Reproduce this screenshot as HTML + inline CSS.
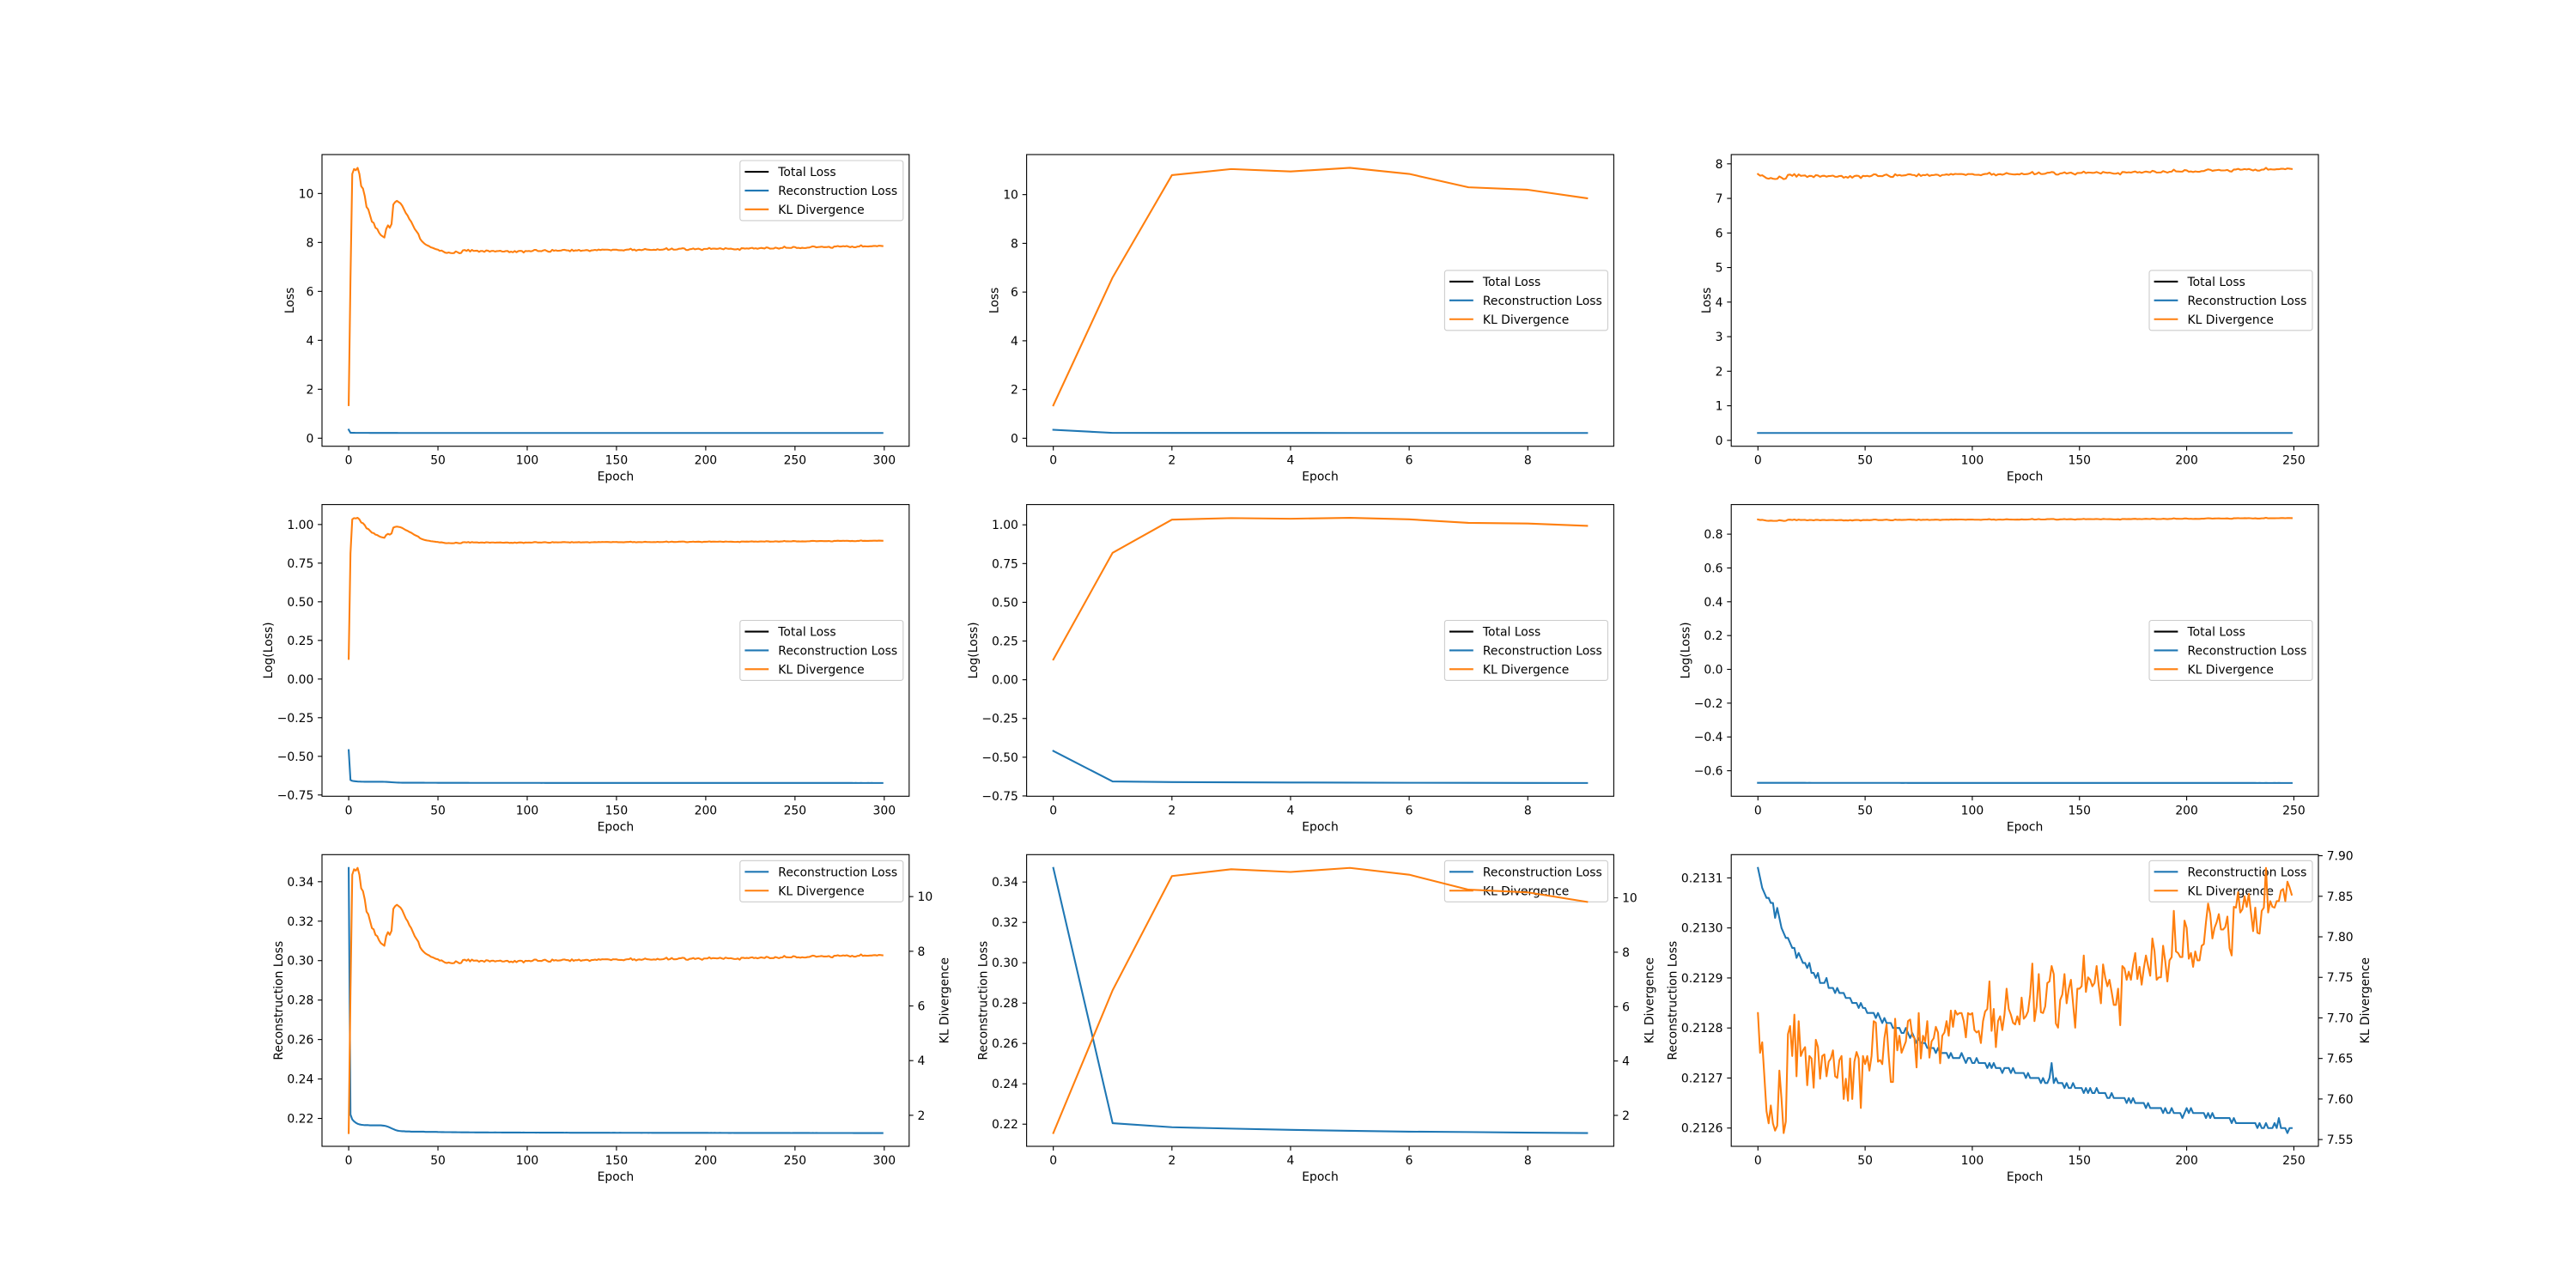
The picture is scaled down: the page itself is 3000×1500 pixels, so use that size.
<!DOCTYPE html>
<html><head><meta charset="utf-8"><title>VAE training losses</title>
<style>
html,body{margin:0;padding:0;background:#fff;}
svg{display:block;font-family:"DejaVu Sans","Liberation Sans",sans-serif;}
</style></head>
<body>
<svg id="fig" width="3000" height="1500" viewBox="0 0 3000 1500" xmlns="http://www.w3.org/2000/svg">
<rect x="0" y="0" width="3000" height="1500" fill="#fff"/>
</svg>
<script>
// ---- data ----
const runB_kl = [1.35,6.6,10.8,11.05,10.95,11.1,10.85,10.3,10.2,9.85];
const runB_rec = [0.347,0.2205,0.2185,0.2178,0.2172,0.2167,0.2163,0.2161,0.2158,0.2156];

const runA_head_kl = [1.35,6.5,10.8,11.0,10.95,11.05,10.8,10.3,10.2,9.9,
9.45,9.35,9.1,8.85,8.8,8.6,8.55,8.4,8.3,8.25,
8.2,8.55,8.7,8.6,8.75,9.55,9.65,9.7,9.65,9.6,
9.5,9.35,9.2,9.1,8.95,8.85,8.7,8.55,8.45,8.35,
8.15,8.05,7.98,7.92,7.88,7.85,7.8,7.78,7.75,7.72];
const runA_head_rec = [0.347,0.222,0.2195,0.2185,0.2178,0.2173,0.217,0.2168,0.2167,0.2166,
0.2166,0.2166,0.2165,0.2165,0.2165,0.2165,0.2165,0.2165,0.2165,0.2164,
0.2163,0.2161,0.2158,0.2154,0.215,0.2146,0.2142,0.2139,0.2137,0.2136,
0.2135,0.2135,0.2134,0.2134,0.2134,0.2133,0.2133,0.2133,0.2133,0.2133,
0.2133,0.2133,0.2133,0.2132,0.2132,0.2132,0.2132,0.2132,0.2132,0.2132];

const runC_kl = [7.706,7.657,7.67,7.628,7.585,7.57,7.592,7.57,7.561,7.567,
7.635,7.6,7.558,7.572,7.68,7.69,7.653,7.704,7.628,7.696,
7.653,7.66,7.664,7.617,7.653,7.65,7.614,7.673,7.664,7.625,
7.653,7.655,7.628,7.646,7.65,7.66,7.628,7.626,7.648,7.653,
7.6,7.625,7.598,7.65,7.6,7.646,7.658,7.65,7.589,7.653,
7.643,7.653,7.635,7.653,7.696,7.694,7.646,7.648,7.643,7.675,
7.692,7.653,7.621,7.621,7.699,7.66,7.678,7.657,7.664,7.671,
7.696,7.698,7.678,7.675,7.639,7.706,7.65,7.678,7.671,7.696,
7.651,7.671,7.675,7.689,7.682,7.644,7.678,7.682,7.696,7.678,
7.709,7.689,7.709,7.704,7.706,7.706,7.696,7.676,7.706,7.704,
7.706,7.685,7.682,7.684,7.669,7.696,7.708,7.711,7.745,7.684,
7.711,7.664,7.696,7.702,7.685,7.704,7.736,7.711,7.704,7.694,
7.692,7.702,7.692,7.725,7.699,7.702,7.708,7.729,7.767,7.696,
7.714,7.754,7.707,7.706,7.714,7.743,7.745,7.764,7.754,7.693,
7.688,7.722,7.729,7.754,7.718,7.736,7.747,7.718,7.688,7.736,
7.736,7.739,7.777,7.732,7.75,7.747,7.739,7.743,7.764,7.739,
7.718,7.766,7.75,7.739,7.747,7.732,7.716,7.716,7.736,7.691,
7.764,7.761,7.747,7.757,7.747,7.766,7.78,7.748,7.763,7.741,
7.761,7.777,7.764,7.752,7.798,7.782,7.747,7.75,7.75,7.789,
7.77,7.745,7.771,7.775,7.832,7.782,7.78,7.775,7.775,7.82,
7.811,7.773,7.78,7.763,7.782,7.771,7.771,7.789,7.791,7.818,
7.841,7.828,7.798,7.811,7.818,7.828,7.809,7.809,7.812,7.825,
7.786,7.777,7.837,7.836,7.855,7.83,7.834,7.85,7.837,7.853,
7.83,7.807,7.836,7.805,7.804,7.832,7.836,7.885,7.83,7.844,
7.837,7.836,7.844,7.844,7.857,7.859,7.844,7.868,7.861,7.852];
const runC_rec = [.21312,.21310,.21308,.21307,.21306,.21306,.21305,.21305,.21302,.21304,
.21302,.21300,.21299,.21298,.21298,.21297,.21296,.21296,.21294,.21295,
.21294,.21293,.21293,.21292,.21293,.21291,.21291,.21290,.21291,.21289,
.21289,.21289,.21290,.21288,.21288,.21288,.21287,.21288,.21287,.21287,
.21287,.21286,.21286,.21286,.21285,.21285,.21285,.21284,.21285,.21284,
.21284,.21283,.21283,.21283,.21283,.21282,.21283,.21282,.21281,.21282,
.21281,.21281,.21281,.21280,.21280,.21280,.21280,.21279,.21279,.21280,
.21279,.21278,.21279,.21278,.21277,.21278,.21277,.21277,.21277,.21276,
.21276,.21276,.21276,.21275,.21276,.21275,.21275,.21275,.21275,.21274,
.21275,.21274,.21274,.21274,.21274,.21275,.21274,.21273,.21274,.21274,
.21273,.21273,.21274,.21273,.21273,.21273,.21273,.21272,.21273,.21272,
.21273,.21272,.21272,.21272,.21271,.21272,.21272,.21272,.21271,.21272,
.21271,.21271,.21271,.21271,.21271,.21270,.21271,.21270,.21270,.21270,
.21270,.21270,.21269,.21270,.21269,.21269,.21270,.21273,.21269,.21270,
.21269,.21269,.21269,.21268,.21269,.21268,.21268,.21269,.21268,.21268,
.21268,.21268,.21267,.21268,.21267,.21268,.21267,.21267,.21268,.21267,
.21267,.21267,.21267,.21266,.21266,.21267,.21266,.21266,.21266,.21266,
.21266,.21266,.21265,.21266,.21265,.21266,.21265,.21265,.21265,.21265,
.21265,.21264,.21265,.21264,.21264,.21264,.21264,.21264,.21264,.21263,
.21264,.21263,.21263,.21264,.21263,.21263,.21263,.21263,.21262,.21263,
.21264,.21263,.21264,.21263,.21263,.21263,.21263,.21263,.21263,.21262,
.21263,.21262,.21263,.21262,.21262,.21262,.21262,.21262,.21262,.21262,
.21262,.21261,.21262,.21261,.21261,.21261,.21261,.21261,.21261,.21261,
.21261,.21261,.21261,.21260,.21261,.21260,.21260,.21261,.21260,.21260,
.21260,.21261,.21260,.21262,.21260,.21260,.21260,.21259,.21260,.21260];

const runA_kl = runA_head_kl.concat(runC_kl);
const runA_rec = runA_head_rec.concat(runC_rec);

const ticksX300 = [0,50,100,150,200,250,300];
const ticksX250 = [0,50,100,150,200,250];
const ticksX10 = [0,2,4,6,8];
const ticksLoss11 = [0,2,4,6,8,10];
const ticksLoss8 = [0,1,2,3,4,5,6,7,8];
const ticksLogA = [-0.75,-0.5,-0.25,0,0.25,0.5,0.75,1.0];
const labelsLogA = ["−0.75","−0.50","−0.25","0.00","0.25","0.50","0.75","1.00"];
const ticksLogC = [-0.6,-0.4,-0.2,0,0.2,0.4,0.6,0.8];
const labelsLogC = ["−0.6","−0.4","−0.2","0.0","0.2","0.4","0.6","0.8"];
const ticksRec = [0.22,0.24,0.26,0.28,0.30,0.32,0.34];
const labelsRec = ["0.22","0.24","0.26","0.28","0.30","0.32","0.34"];
const ticksKLr = [2,4,6,8,10];
const ticksRecC = [0.2126,0.2127,0.2128,0.2129,0.2130,0.2131];
const labelsRecC = ["0.2126","0.2127","0.2128","0.2129","0.2130","0.2131"];
const ticksKLC = [7.55,7.60,7.65,7.70,7.75,7.80,7.85,7.90];
const labelsKLC = ["7.55","7.60","7.65","7.70","7.75","7.80","7.85","7.90"];

// ---- drawing ----
const NS = "http://www.w3.org/2000/svg";
const svg = document.getElementById('fig');
const BLUE = "#1f77b4", ORANGE = "#ff7f0e";
const FS = 13.9;
const colX = [375, 1195.6, 2016.2], W = 683.8;
const rowY = [180, 587.6, 995.3], H = 339.7;

function mk(tag, attrs, parent) {
  const e = document.createElementNS(NS, tag);
  for (const k in attrs) e.setAttribute(k, attrs[k]);
  (parent || svg).appendChild(e);
  return e;
}
function log10arr(a) { return a.map(v => Math.log10(v)); }
function dom(arrs) {
  let mn = Infinity, mx = -Infinity;
  arrs.forEach(a => a.forEach(v => { if (v < mn) mn = v; if (v > mx) mx = v; }));
  const p = (mx - mn) * 0.05;
  return [mn - p, mx + p];
}
function fmt(v) { return String(v); }
function txtW(s) { let w = 0; for (const c of s) w += (c === '.' ? 4.4 : (c === '−' ? 11.6 : 8.85)); return w; }

function panel(cfg) {
  const L = colX[cfg.col], T = rowY[cfg.row], R = L + W, B = T + H;
  const g = mk('g', {});
  
  
  const n = cfg.n;
  const xd = [-(n - 1) * 0.05, (n - 1) * 1.05];
  const sx = v => L + (v - xd[0]) / (xd[1] - xd[0]) * W;
  const ldom = dom(cfg.left.map(s => s.data));
  const sy = v => B - (v - ldom[0]) / (ldom[1] - ldom[0]) * H;
  let rdom = null, sr = null;
  if (cfg.right) { rdom = dom(cfg.right.map(s => s.data)); sr = v => B - (v - rdom[0]) / (rdom[1] - rdom[0]) * H; }

  // x ticks
  cfg.xTicks.forEach(t => {
    const x = sx(t);
    const tk = mk('line', {x1: x, x2: x, y1: B, y2: B + 4.9, stroke: '#000', 'stroke-width': 1.1}, g);
    
    
    const tl = mk('text', {x: x, y: B + 21, 'font-size': FS, 'text-anchor': 'middle', fill: '#000'}, g);
    tl.textContent = fmt(t);
    
    
  });
  const xl = mk('text', {x: (L + R) / 2, y: B + 40, 'font-size': FS, 'text-anchor': 'middle', fill: '#000'}, g);
  xl.textContent = 'Epoch';
  
  

  // left y ticks
  let maxW = 0;
  cfg.yTicks.forEach((t, i) => {
    if (t < ldom[0] || t > ldom[1]) return;
    const y = sy(t);
    const tk = mk('line', {x1: L - 4.9, x2: L, y1: y, y2: y, stroke: '#000', 'stroke-width': 1.1}, g);
    
    
    const s = cfg.yLabels ? cfg.yLabels[i] : fmt(t);
    maxW = Math.max(maxW, txtW(s));
    const tl = mk('text', {x: L - 9.7, y: y + 5, 'font-size': FS, 'text-anchor': 'end', fill: '#000'}, g);
    tl.textContent = s;
    
    
  });
  const yx = L - 9.7 - maxW - 5.5;
  const yl = mk('text', {x: yx, y: (T + B) / 2, 'font-size': FS, 'text-anchor': 'middle', fill: '#000', transform: `rotate(-90 ${yx} ${(T + B) / 2})`}, g);
  yl.textContent = cfg.ylabel;
  
  

  // right y ticks
  if (cfg.right) {
    let mw = 0;
    cfg.rTicks.forEach((t, i) => {
      if (t < rdom[0] || t > rdom[1]) return;
      const y = sr(t);
      const tk = mk('line', {x1: R, x2: R + 4.9, y1: y, y2: y, stroke: '#000', 'stroke-width': 1.1}, g);
      
      
      const s = cfg.rLabels ? cfg.rLabels[i] : fmt(t);
      mw = Math.max(mw, txtW(s));
      const tl = mk('text', {x: R + 9.7, y: y + 5, 'font-size': FS, 'text-anchor': 'start', fill: '#000'}, g);
      tl.textContent = s;
      
      
    });
    const rx = R + 9.7 + mw + 5.5 + 13;
    const rl = mk('text', {x: rx, y: (T + B) / 2, 'font-size': FS, 'text-anchor': 'middle', fill: '#000', transform: `rotate(-90 ${rx} ${(T + B) / 2})`}, g);
    rl.textContent = cfg.rlabel;
    
    
  }

  function drawLine(s, scale) {
    const pts = s.data.map((v, i) => sx(i).toFixed(2) + ',' + scale(v).toFixed(2)).join(' ');
    const pl = mk('polyline', {points: pts, fill: 'none', stroke: s.color, 'stroke-width': 2.08, 'stroke-linejoin': 'round', 'stroke-linecap': 'square'}, g);
    
    
  }
  function drawLegend() {
    const ents = cfg.legend;
    const lw = 190, rowH = 14.9, sp = 7, pad = 5.6;
    const lh = pad * 2 + ents.length * rowH + (ents.length - 1) * sp;
    const lx = R - 7 - lw;
    const ly = cfg.legendLoc === 'center' ? (T + B) / 2 - lh / 2 : T + 7;
    const lg = mk('g', {}, g);
    
    
    mk('rect', {x: lx, y: ly, width: lw, height: lh, rx: 2.8, fill: '#fff', 'fill-opacity': 0.8, stroke: '#cccccc', 'stroke-width': 1.1}, lg);
    ents.forEach((e, i) => {
      const cy = ly + pad + i * (rowH + sp) + rowH / 2;
      const eg = mk('g', {}, lg);
      
      
      mk('line', {x1: lx + 5.6, x2: lx + 5.6 + 27.8, y1: cy, y2: cy, stroke: e.color, 'stroke-width': 2.08}, eg);
      const t = mk('text', {x: lx + 5.6 + 27.8 + 11.1, y: cy + 5, 'font-size': FS, fill: '#000'}, eg);
      t.textContent = e.label;
    });
  }

  cfg.left.forEach(s => drawLine(s, sy));
  if (cfg.right) { drawLegend(); cfg.right.forEach(s => drawLine(s, sr)); }
  else drawLegend();

  const fr = mk('rect', {x: L, y: T, width: W, height: H, fill: 'none', stroke: '#000', 'stroke-width': 1.1}, g);
  
  
}

const L3 = [{label: 'Total Loss', color: '#000'}, {label: 'Reconstruction Loss', color: BLUE}, {label: 'KL Divergence', color: ORANGE}];
const L2 = [{label: 'Reconstruction Loss', color: BLUE}, {label: 'KL Divergence', color: ORANGE}];

panel({name: 'loss-panel-run-a', col: 0, row: 0, n: runA_kl.length, xTicks: ticksX300, yTicks: ticksLoss11, ylabel: 'Loss', legend: L3, legendLoc: 'upper',
  left: [{data: runA_rec, color: BLUE, name: 'recon-line'}, {data: runA_kl, color: ORANGE, name: 'kl-line'}]});
panel({name: 'loss-panel-run-b', col: 1, row: 0, n: runB_kl.length, xTicks: ticksX10, yTicks: ticksLoss11, ylabel: 'Loss', legend: L3, legendLoc: 'center',
  left: [{data: runB_rec, color: BLUE, name: 'recon-line'}, {data: runB_kl, color: ORANGE, name: 'kl-line'}]});
panel({name: 'loss-panel-run-c', col: 2, row: 0, n: runC_kl.length, xTicks: ticksX250, yTicks: ticksLoss8, ylabel: 'Loss', legend: L3, legendLoc: 'center',
  left: [{data: runC_rec, color: BLUE, name: 'recon-line'}, {data: runC_kl, color: ORANGE, name: 'kl-line'}]});

panel({name: 'log-loss-panel-run-a', col: 0, row: 1, n: runA_kl.length, xTicks: ticksX300, yTicks: ticksLogA, yLabels: labelsLogA, ylabel: 'Log(Loss)', legend: L3, legendLoc: 'center',
  left: [{data: log10arr(runA_rec), color: BLUE, name: 'recon-log-line'}, {data: log10arr(runA_kl), color: ORANGE, name: 'kl-log-line'}]});
panel({name: 'log-loss-panel-run-b', col: 1, row: 1, n: runB_kl.length, xTicks: ticksX10, yTicks: ticksLogA, yLabels: labelsLogA, ylabel: 'Log(Loss)', legend: L3, legendLoc: 'center',
  left: [{data: log10arr(runB_rec), color: BLUE, name: 'recon-log-line'}, {data: log10arr(runB_kl), color: ORANGE, name: 'kl-log-line'}]});
panel({name: 'log-loss-panel-run-c', col: 2, row: 1, n: runC_kl.length, xTicks: ticksX250, yTicks: ticksLogC, yLabels: labelsLogC, ylabel: 'Log(Loss)', legend: L3, legendLoc: 'center',
  left: [{data: log10arr(runC_rec), color: BLUE, name: 'recon-log-line'}, {data: log10arr(runC_kl), color: ORANGE, name: 'kl-log-line'}]});

panel({name: 'twin-panel-run-a', col: 0, row: 2, n: runA_kl.length, xTicks: ticksX300, yTicks: ticksRec, yLabels: labelsRec, ylabel: 'Reconstruction Loss',
  rTicks: ticksKLr, rlabel: 'KL Divergence', legend: L2, legendLoc: 'upper',
  left: [{data: runA_rec, color: BLUE, name: 'recon-line'}], right: [{data: runA_kl, color: ORANGE, name: 'kl-line'}]});
panel({name: 'twin-panel-run-b', col: 1, row: 2, n: runB_kl.length, xTicks: ticksX10, yTicks: ticksRec, yLabels: labelsRec, ylabel: 'Reconstruction Loss',
  rTicks: ticksKLr, rlabel: 'KL Divergence', legend: L2, legendLoc: 'upper',
  left: [{data: runB_rec, color: BLUE, name: 'recon-line'}], right: [{data: runB_kl, color: ORANGE, name: 'kl-line'}]});
panel({name: 'twin-panel-run-c', col: 2, row: 2, n: runC_kl.length, xTicks: ticksX250, yTicks: ticksRecC, yLabels: labelsRecC, ylabel: 'Reconstruction Loss',
  rTicks: ticksKLC, rLabels: labelsKLC, rlabel: 'KL Divergence', legend: L2, legendLoc: 'upper',
  left: [{data: runC_rec, color: BLUE, name: 'recon-line'}], right: [{data: runC_kl, color: ORANGE, name: 'kl-line'}]});
</script>
</body></html>
